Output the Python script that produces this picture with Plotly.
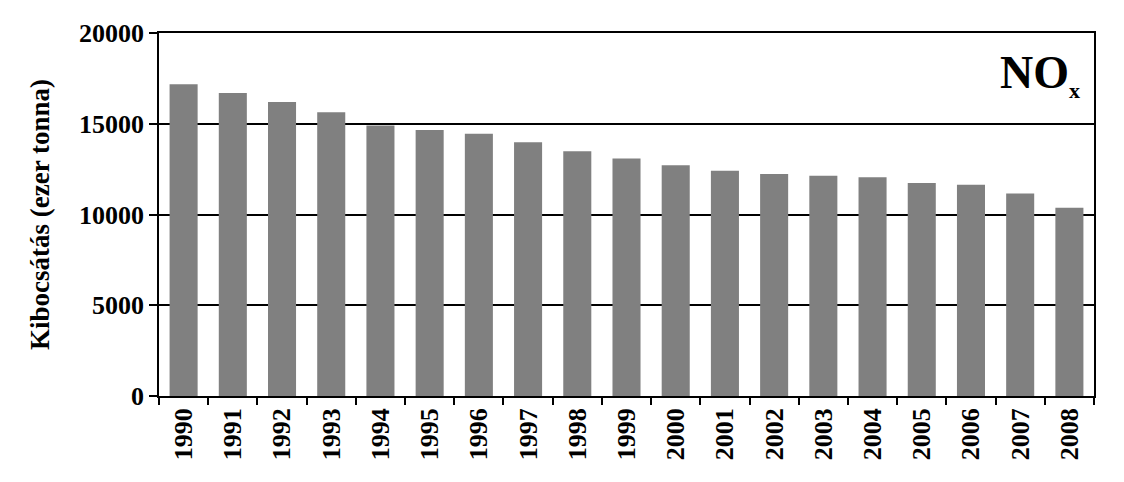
import plotly.graph_objects as go

years = ["1990", "1991", "1992", "1993", "1994", "1995", "1996", "1997", "1998", "1999",
         "2000", "2001", "2002", "2003", "2004", "2005", "2006", "2007", "2008"]
emissions = [17180, 16700, 16200, 15630, 14910, 14650, 14450, 13980, 13480, 13090,
             12710, 12410, 12230, 12130, 12050, 11730, 11640, 11160, 10370]
y_ticks = [0, 5000, 10000, 15000, 20000]

font_family = "Liberation Serif, Times New Roman, serif"

fig = go.Figure(go.Bar(x=years, y=emissions, marker=dict(color="#808080", line=dict(width=0)),
                       hoverinfo="x+y"))

fig.update_layout(
    width=1124, height=482,
    margin=dict(l=151, r=38, t=25, b=94, autoexpand=False),
    plot_bgcolor="white", paper_bgcolor="white",
    bargap=0.43,
    showlegend=False,
    font=dict(family=font_family, color="black"),
    annotations=[dict(text="<b>NO<sub><span style=\"font-size:22px\">x</span></sub></b>",
                      xref="paper", yref="paper",
                      x=0.987, y=0.968, xanchor="right", yanchor="top", showarrow=False,
                      font=dict(size=46, family=font_family, color="black"))],
)
fig.update_xaxes(
    type="category", showline=True, linecolor="black", linewidth=1.5, mirror=True,
    ticks="outside", ticklen=7, tickcolor="black", tickwidth=1.5,
    tickson="boundaries", tickangle=-90,
    tickfont=dict(size=26, family=font_family, color="black", weight="bold"),
    showgrid=False,
)
fig.update_yaxes(
    range=[0, 20000], tickvals=y_ticks, ticktext=[str(v) for v in y_ticks],
    showline=True, linecolor="black", linewidth=1.5, mirror=True,
    ticks="outside", ticklen=8, tickcolor="black", tickwidth=1.5,
    showgrid=True, gridcolor="black", gridwidth=1.5, zeroline=False,
    tickfont=dict(size=26, family=font_family, color="black", weight="bold"),
    title=dict(text="Kibocsátás (ezer tonna)", standoff=22,
               font=dict(size=27, family=font_family, color="black", weight="bold")),
)

fig.write_html("out.html")
